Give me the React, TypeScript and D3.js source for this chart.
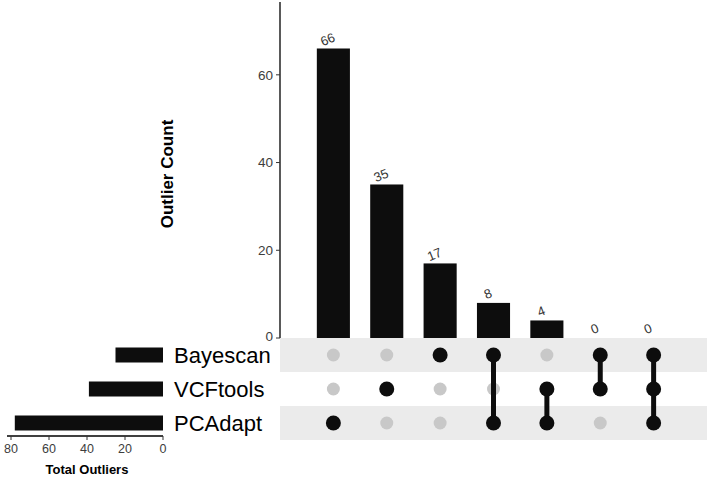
import React from 'react'
import * as d3 from 'd3'

const sets = ['Bayescan', 'VCFtools', 'PCAdapt']
const setTotals = [25, 39, 78]
const intersections = [
  ['PCAdapt'],
  ['VCFtools'],
  ['Bayescan'],
  ['Bayescan', 'PCAdapt'],
  ['VCFtools', 'PCAdapt'],
  ['Bayescan', 'VCFtools'],
  ['Bayescan', 'VCFtools', 'PCAdapt'],
]
const intersectionCounts = [66, 35, 17, 8, 4, 0, 0]
const countTicks = [0, 20, 40, 60]
const totalTicks = [0, 20, 40, 60, 80]

const W = 709
const H = 479
const font = 'Liberation Sans, Arial, sans-serif'
const tickGrey = '#3d3d3d'

export default function App() {
  const cols = intersections.map((_, i) => String(i))
  const x = d3.scaleBand().domain(cols).range([280, 707]).paddingInner(0.38).paddingOuter(0.69)
  const y = d3.scaleLinear().domain([0, 76.6]).range([338, 2])
  const rows = d3.scaleBand().domain(sets).range([338, 440])
  const xTotal = d3.scaleLinear().domain([0, 80]).range([163, 11])

  const cx = (i: number) => (x(String(i)) as number) + x.bandwidth() / 2
  const cy = (s: string) => (rows(s) as number) + rows.bandwidth() / 2

  return (
    <svg width={W} height={H} style={{ position: 'absolute', left: 0, top: 0, background: '#fff' }} fontFamily={font}>
      {/* matrix background stripes */}
      {sets.map((s, i) =>
        i % 2 === 0 ? (
          <rect key={s} x={280} y={rows(s)} width={707 - 280} height={rows.bandwidth()} fill="#ebebeb" />
        ) : null
      )}

      {/* intersection size axis */}
      <line x1={280} x2={280} y1={y.range()[1]} y2={y(0)} stroke="#000" strokeWidth={1.3} />
      {countTicks.map((t) => (
        <g key={t} transform={`translate(0,${y(t)})`}>
          <line x1={276} x2={280} stroke="#333" strokeWidth={1} />
          <text x={273} dy={t === 0 ? '0.2em' : '0.35em'} textAnchor="end" fontSize={13.5} fill={tickGrey}>
            {t}
          </text>
        </g>
      ))}
      <text
        transform={`translate(173,${(y(0) + y.range()[1]) / 2 + 4}) rotate(-90)`}
        textAnchor="middle"
        fontSize={17}
        fontWeight="bold"
        fill="#000"
      >
        Outlier Count
      </text>

      {/* intersection bars */}
      {intersectionCounts.map((v, i) => (
        <g key={i}>
          <rect x={x(String(i))} y={y(v)} width={x.bandwidth()} height={y(0) - y(v)} fill="#0d0d0d" />
          <text
            transform={`translate(${cx(i) - 4},${y(v) - 5}) rotate(-22)`}
            textAnchor="middle"
            fontSize={13}
            fill="#333"
          >
            {v}
          </text>
        </g>
      ))}

      {/* matrix dots and connectors */}
      {intersections.map((members, i) => {
        const ys = members.map(cy)
        return (
          <g key={i}>
            {sets.map((s) =>
              members.includes(s) ? null : <circle key={s} cx={cx(i)} cy={cy(s)} r={6.5} fill="#c8c8c8" />
            )}
            {members.length > 1 && (
              <line x1={cx(i)} x2={cx(i)} y1={d3.min(ys)} y2={d3.max(ys)} stroke="#0d0d0d" strokeWidth={5} />
            )}
            {members.map((s) => (
              <circle key={s} cx={cx(i)} cy={cy(s)} r={7.5} fill="#0d0d0d" />
            ))}
          </g>
        )
      })}

      {/* set names */}
      {sets.map((s) => (
        <text key={s} x={174} y={cy(s)} dy="0.36em" fontSize={22} fill="#000">
          {s}
        </text>
      ))}

      {/* set size bars */}
      {sets.map((s, i) => (
        <rect
          key={s}
          x={xTotal(setTotals[i])}
          y={cy(s) - 7.5}
          width={xTotal(0) - xTotal(setTotals[i])}
          height={15}
          fill="#0d0d0d"
        />
      ))}
      <line x1={7} x2={163} y1={436} y2={436} stroke="#000" strokeWidth={1.3} />
      {totalTicks.map((t) => (
        <g key={t} transform={`translate(${xTotal(t)},436)`}>
          <line y1={0} y2={4} stroke="#333" />
          <text y={13} dy="0.35em" textAnchor="middle" fontSize={12.5} fill={tickGrey}>
            {t}
          </text>
        </g>
      ))}
      <text x={87} y={474} textAnchor="middle" fontSize={13} fontWeight="bold" fill="#000">
        Total Outliers
      </text>
    </svg>
  )
}
